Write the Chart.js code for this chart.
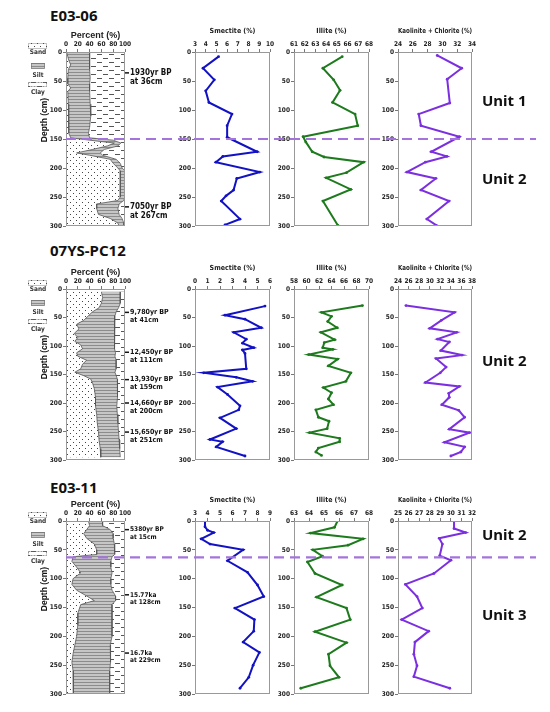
<!DOCTYPE html>
<html lang="en">
<head>
<meta charset="utf-8">
<title>Clay mineral profiles</title>
<script src="https://cdn.jsdelivr.net/npm/chart.js"></script>
<style>
  body { margin: 0; background: #fff; }
  #page { position: relative; width: 550px; height: 712px; overflow: hidden; }
  #page canvas { position: absolute; }
  .core-name { position: absolute; left: 50px; font: bold 15px 'Noto Sans', sans-serif; color: #111; line-height: 1; }
  .unit { position: absolute; left: 482px; font: bold 15px 'Noto Sans', sans-serif; color: #111; line-height: 1; }
</style>
</head>
<body>
<div id="page"></div>
<script>
// ---------- E03-06 ----------
const e0306GrainDepth = [0, 8, 15, 22, 30, 45, 55, 62, 68, 90, 110, 130, 140, 148, 152, 157, 162, 168, 174, 178, 185, 192, 200, 205, 250, 256, 262, 270, 280, 287, 295, 300];
const e0306Sand = [1, 3, 5, 8, 4, 3, 3, 8, 3, 4, 4, 5, 5, 8, 40, 82, 70, 45, 18, 40, 75, 80, 88, 92, 92, 88, 52, 52, 55, 75, 88, 90];
const e0306Silt = [39, 37, 35, 32, 36, 38, 37, 32, 37, 37, 38, 35, 33, 32, 40, 11, 18, 20, 40, 22, 10, 12, 7, 8, 8, 10, 38, 36, 35, 20, 10, 8];
const e0306AgeDepth = [36, 267];
const e0306AgeText = [['1930yr BP', 'at 36cm'], ['7050yr BP', 'at 267cm']];

const e0306SmDepth = [8, 28, 48, 67, 87, 107, 127, 147, 172, 180, 190, 207, 218, 238, 248, 257, 288, 298];
const e0306Sm = [5.2, 3.75, 4.8, 4.0, 4.3, 6.45, 6.0, 6.0, 8.8, 5.6, 4.95, 9.05, 6.9, 6.6, 5.9, 5.45, 7.2, 5.8];
const e0306IlDepth = [8, 28, 48, 66, 87, 107, 127, 146, 155, 172, 181, 190, 208, 217, 237, 257, 299];
const e0306Il = [65.5, 63.7, 64.7, 65.3, 64.6, 66.7, 66.95, 61.85, 62.1, 62.7, 63.8, 67.5, 65.9, 64.0, 66.3, 63.7, 65.1];
const e0306KcDepth = [6, 28, 47, 88, 107, 127, 146, 172, 180, 190, 207, 218, 238, 257, 288, 299];
const e0306Kc = [29.3, 32.6, 30.65, 31.0, 26.8, 27.1, 32.3, 28.5, 30.6, 27.7, 25.2, 29.1, 27.1, 30.9, 27.9, 29.2];
const e0306Boundary = [150];
const e0306Units = ['Unit 1', 'Unit 2'];
const e0306UnitDepth = [86, 220];

// ---------- 07YS-PC12 ----------
const pc12GrainDepth = [5, 15, 25, 33, 40, 47, 55, 62, 70, 78, 85, 92, 98, 105, 112, 118, 125, 132, 140, 146, 152, 158, 165, 175, 190, 205, 220, 235, 250, 265, 280, 295];
const pc12Sand = [60, 62, 60, 56, 45, 38, 30, 18, 22, 14, 20, 15, 25, 28, 18, 20, 35, 28, 25, 15, 30, 42, 45, 48, 50, 50, 52, 53, 55, 56, 58, 59];
const pc12Silt = [32, 30, 32, 33, 40, 45, 52, 65, 60, 68, 62, 67, 57, 55, 66, 63, 50, 57, 60, 68, 55, 45, 42, 40, 37, 36, 35, 35, 34, 34, 33, 33];
const pc12AgeDepth = [41, 111, 159, 200, 251];
const pc12AgeText = [['9,780yr BP', 'at 41cm'], ['12,450yr BP', 'at 111cm'], ['13,930yr BP', 'at 159cm'], ['14,660yr BP', 'at 200cm'], ['15,650yr BP', 'at 251cm']];

const pc12SmDepth = [30, 46, 53, 68, 76, 88, 95, 103, 107, 113, 140, 147, 155, 162, 172, 185, 205, 212, 226, 245, 264, 268, 277, 293];
const pc12Sm = [5.6, 2.4, 4.0, 5.3, 3.1, 4.1, 3.8, 4.7, 3.8, 4.0, 4.1, 0.7, 3.3, 4.6, 1.8, 2.6, 3.6, 3.5, 2.0, 3.3, 1.2, 2.2, 1.7, 4.0];
const pc12IlDepth = [29, 41, 48, 57, 68, 76, 89, 94, 103, 106, 115, 123, 135, 147, 162, 173, 182, 193, 203, 212, 225, 232, 245, 252, 262, 268, 279, 286, 292];
const pc12Il = [68.95, 62.4, 64.0, 63.4, 64.9, 62.3, 64.5, 62.85, 62.6, 64.2, 60.35, 65.0, 63.5, 67.1, 66.3, 62.7, 64.0, 63.5, 64.3, 61.5, 61.9, 63.6, 63.3, 60.5, 65.3, 65.3, 61.9, 61.5, 62.4];
const pc12KcDepth = [29, 41, 55, 69, 76, 88, 93, 108, 116, 122, 137, 147, 164, 171, 183, 190, 203, 213, 225, 246, 252, 269, 277, 286, 293];
const pc12Kc = [25.5, 34.7, 32.2, 30.0, 35.1, 31.5, 33.7, 32.1, 36.1, 31.2, 33.1, 32.0, 29.2, 35.6, 33.6, 33.7, 32.3, 35.5, 36.6, 33.7, 37.5, 32.8, 36.6, 35.9, 34.0];
const pc12Boundary = [];
const pc12Units = ['Unit 2'];
const pc12UnitDepth = [128];

// ---------- E03-11 ----------
const e0311GrainDepth = [0, 8, 15, 22, 30, 40, 50, 58, 62, 70, 80, 90, 100, 110, 120, 130, 138, 145, 160, 180, 200, 215, 230, 245, 260, 280, 300];
const e0311Sand = [38, 40, 35, 30, 35, 48, 52, 52, 12, 10, 18, 25, 12, 10, 18, 35, 48, 25, 20, 20, 18, 15, 12, 10, 12, 13, 12];
const e0311Silt = [24, 22, 40, 50, 45, 34, 31, 30, 66, 66, 58, 53, 64, 66, 60, 49, 36, 53, 58, 58, 60, 60, 64, 65, 62, 61, 62];
const e0311AgeDepth = [15, 128, 229];
const e0311AgeText = [['5380yr BP', 'at 15cm'], ['15.77ka', 'at 128cm'], ['16.7ka', 'at 229cm']];

const e0311SmDepth = [0, 10, 16, 20, 31, 40, 50, 69, 89, 111, 131, 151, 171, 191, 210, 228, 250, 271, 290];
const e0311Sm = [3.8, 3.8, 4.0, 4.5, 3.5, 4.2, 6.85, 5.6, 7.2, 8.0, 8.5, 6.2, 7.75, 7.7, 6.85, 8.15, 7.65, 7.3, 6.6];
const e0311IlDepth = [0, 11, 21, 31, 42, 50, 61, 71, 91, 111, 132, 151, 171, 192, 211, 231, 251, 271, 290];
const e0311Il = [65.9, 65.7, 64.1, 67.6, 66.6, 64.25, 64.9, 63.9, 64.4, 66.2, 64.5, 66.5, 66.75, 64.4, 66.5, 65.3, 65.4, 66.0, 63.45];
const e0311KcDepth = [0, 13, 20, 30, 40, 60, 68, 91, 110, 131, 151, 171, 191, 210, 231, 251, 270, 290];
const e0311Kc = [30.3, 30.3, 31.4, 28.9, 29.2, 28.95, 30.0, 28.4, 25.7, 26.8, 27.3, 25.35, 27.9, 26.6, 26.5, 26.8, 26.5, 29.9];
const e0311Boundary = [63];
const e0311Units = ['Unit 2', 'Unit 3'];
const e0311UnitDepth = [26, 164];

// ---------- layout ----------
const NARROW = "'Liberation Sans Narrow', 'DejaVu Sans Condensed', 'Liberation Sans', sans-serif";
const tickFont = { family: NARROW, size: 6.5, weight: 'bold' };
const titleFont = { family: NARROW, size: 7, weight: 'bold' };

const columns = [
    { title: 'Smectite (%)', left: 195, right: 270, color: '#1212c4' },
    { title: 'Illite (%)', left: 294, right: 369, color: '#1d7a1d' },
    { title: 'Kaolinite + Chlorite (%)', left: 398, right: 472, color: '#7b2fe0' }
];

const cores = [
    {
        name: 'E03-06', plotTop: 52, plotBottom: 226, nameTop: 8, ageFont: 8,
        grain: { depth: e0306GrainDepth, sand: e0306Sand, silt: e0306Silt },
        ages: { depth: e0306AgeDepth, text: e0306AgeText },
        minerals: [
            { depth: e0306SmDepth, value: e0306Sm, min: 3, max: 10, step: 1 },
            { depth: e0306IlDepth, value: e0306Il, min: 61, max: 68, step: 1 },
            { depth: e0306KcDepth, value: e0306Kc, min: 24, max: 34, step: 2 }
        ],
        boundary: e0306Boundary, units: e0306Units, unitDepth: e0306UnitDepth
    },
    {
        name: '07YS-PC12', plotTop: 289, plotBottom: 460, nameTop: 243, ageFont: 7,
        grain: { depth: pc12GrainDepth, sand: pc12Sand, silt: pc12Silt },
        ages: { depth: pc12AgeDepth, text: pc12AgeText },
        minerals: [
            { depth: pc12SmDepth, value: pc12Sm, min: 0, max: 6, step: 1 },
            { depth: pc12IlDepth, value: pc12Il, min: 58, max: 70, step: 2 },
            { depth: pc12KcDepth, value: pc12Kc, min: 24, max: 38, step: 2 }
        ],
        boundary: pc12Boundary, units: pc12Units, unitDepth: pc12UnitDepth
    },
    {
        name: 'E03-11', plotTop: 521, plotBottom: 694, nameTop: 480, ageFont: 6.5,
        grain: { depth: e0311GrainDepth, sand: e0311Sand, silt: e0311Silt },
        ages: { depth: e0311AgeDepth, text: e0311AgeText },
        minerals: [
            { depth: e0311SmDepth, value: e0311Sm, min: 3, max: 9, step: 1 },
            { depth: e0311IlDepth, value: e0311Il, min: 63, max: 68, step: 1 },
            { depth: e0311KcDepth, value: e0311Kc, min: 25, max: 32, step: 1 }
        ],
        boundary: e0311Boundary, units: e0311Units, unitDepth: e0311UnitDepth
    }
];

const page = document.getElementById('page');

function addCanvas(left, top, w, h) {
    const cv = document.createElement('canvas');
    cv.width = w; cv.height = h;
    cv.style.left = left + 'px'; cv.style.top = top + 'px';
    page.appendChild(cv);
    return cv;
}

function addText(cls, text, top) {
    const d = document.createElement('div');
    d.className = cls; d.textContent = text;
    d.style.top = top + 'px';
    page.appendChild(d);
}

// lithology fill patterns
function makePattern(kind) {
    const c = document.createElement('canvas');
    const p = c.getContext('2d');
    if (kind === 'sand') {
        c.width = 6; c.height = 6;
        p.fillStyle = '#fff'; p.fillRect(0, 0, 6, 6);
        p.fillStyle = '#444'; p.fillRect(1, 1, 1, 1); p.fillRect(4, 4, 1, 1);
    } else if (kind === 'silt') {
        c.width = 4; c.height = 3;
        p.fillStyle = '#c6c6c6'; p.fillRect(0, 0, 4, 3);
        p.fillStyle = '#8c8c8c'; p.fillRect(0, 0, 4, 1);
    } else {
        c.width = 12; c.height = 8;
        p.fillStyle = '#fff'; p.fillRect(0, 0, 12, 8);
        p.fillStyle = '#555'; p.fillRect(1, 2, 5, 1); p.fillRect(7, 6, 5, 1);
    }
    return document.createElement('canvas').getContext('2d').createPattern(c, 'repeat');
}
const patterns = { sand: makePattern('sand'), silt: makePattern('silt'), clay: makePattern('clay') };

const framePlugin = {
    id: 'frame',
    afterDraw(chart) {
        const { ctx, chartArea: a } = chart;
        ctx.save();
        ctx.strokeStyle = '#999';
        ctx.lineWidth = 1;
        ctx.strokeRect(Math.round(a.left) + 0.5, Math.round(a.top) + 0.5, Math.round(a.width) - 1, Math.round(a.height) - 1);
        ctx.restore();
    }
};

function baseOptions(padding) {
    return {
        responsive: false, animation: false, events: [],
        layout: { padding: padding, autoPadding: false },
        plugins: { legend: { display: false }, tooltip: { enabled: false } }
    };
}

function mineralChart(core, col, m) {
    const H_TOP = 26, W_LEFT = 24, PAD_R = 10, PAD_B = 6;
    const w = W_LEFT + (col.right - col.left) + PAD_R;
    const h = H_TOP + (core.plotBottom - core.plotTop) + PAD_B;
    const cv = addCanvas(col.left - W_LEFT, core.plotTop - H_TOP, w, h);
    const opts = baseOptions({ top: 0, left: 0, right: PAD_R, bottom: PAD_B });
    opts.scales = {
        x: {
            type: 'linear', position: 'top', min: m.min, max: m.max,
            afterFit: s => { s.height = H_TOP; },
            ticks: { stepSize: m.step, font: tickFont, color: '#222', padding: 1, maxRotation: 0, autoSkip: false },
            grid: { drawOnChartArea: false, tickLength: 3, color: '#777' },
            border: { display: false },
            title: { display: true, text: col.title, font: titleFont, color: '#222', padding: { top: 1, bottom: 0 } }
        },
        y: {
            type: 'linear', reverse: true, min: 0, max: 300,
            afterFit: s => { s.width = W_LEFT; },
            ticks: { stepSize: 50, font: tickFont, color: '#222', padding: 1 },
            grid: { drawOnChartArea: false, tickLength: 3, color: '#777' },
            border: { display: false }
        }
    };
    new Chart(cv, {
        type: 'scatter',
        data: {
            datasets: [{
                data: m.depth.map((d, i) => ({ x: m.value[i], y: d })),
                showLine: true, borderColor: col.color, backgroundColor: col.color,
                borderWidth: 2, pointRadius: 1.4, pointBorderWidth: 0
            }]
        },
        options: opts,
        plugins: [framePlugin]
    });
}

function grainChart(core) {
    const g = core.grain;
    const top = g.sand.map((s, i) => s + g.silt[i]);
    const zeros = g.sand.map(() => 0);
    const hundreds = g.sand.map(() => 100);
    const LEFT = 66, RIGHT = 125, PAD_T = 18, H_AX = 22, PAD_B = 6, W = 190;
    const cv = addCanvas(0, core.plotTop - PAD_T - H_AX, W, PAD_T + H_AX + (core.plotBottom - core.plotTop) + PAD_B);
    const opts = baseOptions({ top: PAD_T, left: 0, right: W - RIGHT, bottom: PAD_B });
    opts.scales = {
        x: {
            type: 'linear', position: 'top', min: 0, max: 100,
            afterFit: s => { s.height = H_AX; },
            ticks: { stepSize: 20, font: tickFont, color: '#222', padding: 1, maxRotation: 0, autoSkip: false },
            grid: { drawOnChartArea: false, tickLength: 3, color: '#777' },
            border: { display: false },
            title: { display: true, text: 'Percent (%)', font: { family: "'Liberation Sans', sans-serif", size: 9, weight: 'bold' }, color: '#222', padding: { top: 0, bottom: 0 } }
        },
        y: {
            type: 'linear', reverse: true, min: 0, max: 300,
            afterFit: s => { s.width = LEFT; },
            ticks: { stepSize: 50, font: tickFont, color: '#222', padding: 1 },
            grid: { drawOnChartArea: false, tickLength: 3, color: '#777' },
            border: { display: false }
        }
    };

    const bands = {
        id: 'bands',
        beforeDatasetsDraw(chart) {
            const { ctx, chartArea: a, scales: { x, y } } = chart;
            const band = (lo, hi, pat) => {
                ctx.beginPath();
                g.depth.forEach((d, i) => ctx.lineTo(x.getPixelForValue(lo[i]), y.getPixelForValue(d)));
                for (let i = g.depth.length - 1; i >= 0; i--) ctx.lineTo(x.getPixelForValue(hi[i]), y.getPixelForValue(g.depth[i]));
                ctx.closePath();
                ctx.fillStyle = pat;
                ctx.fill();
            };
            ctx.save();
            ctx.beginPath(); ctx.rect(a.left, a.top, a.width, a.height); ctx.clip();
            band(zeros, g.sand, patterns.sand);
            band(g.sand, top, patterns.silt);
            band(top, hundreds, patterns.clay);
            ctx.restore();
        },
        afterDraw(chart) {
            const { ctx, chartArea: a, scales: { y } } = chart;
            ctx.save();
            // age control points
            ctx.fillStyle = '#111';
            ctx.strokeStyle = '#111';
            ctx.lineWidth = 1.5;
            ctx.font = `bold ${core.ageFont}px ${NARROW}`;
            ctx.textBaseline = 'middle';
            core.ages.depth.forEach((d, i) => {
                const py = y.getPixelForValue(d);
                ctx.beginPath(); ctx.moveTo(a.right, py); ctx.lineTo(a.right + 4, py); ctx.stroke();
                ctx.fillText(core.ages.text[i][0], a.right + 5, py);
                ctx.fillText(core.ages.text[i][1], a.right + 5, py + core.ageFont + 1);
            });
            // lithology legend
            const t = a.top;
            ctx.lineWidth = 0.7;
            ctx.fillStyle = patterns.sand; ctx.fillRect(28, t - 9, 19, 6);
            ctx.setLineDash([1, 1]); ctx.strokeStyle = '#555'; ctx.strokeRect(28.5, t - 8.5, 18, 5);
            ctx.fillStyle = patterns.silt; ctx.fillRect(31, t + 11, 14, 6);
            ctx.setLineDash([]); ctx.strokeStyle = '#777'; ctx.strokeRect(31.5, t + 11.5, 13, 5);
            ctx.fillStyle = patterns.clay; ctx.fillRect(28, t + 30, 19, 5);
            ctx.setLineDash([2, 1]); ctx.strokeStyle = '#666'; ctx.strokeRect(28.5, t + 30.5, 18, 4);
            ctx.setLineDash([]);
            ctx.fillStyle = '#333';
            ctx.font = `bold 6.5px ${NARROW}`;
            ctx.textAlign = 'center';
            ctx.fillText('Sand', 38, t);
            ctx.fillText('Silt', 38, t + 23);
            ctx.fillText('Clay', 38, t + 40);
            // depth axis title
            ctx.translate(45, t + 68);
            ctx.rotate(-Math.PI / 2);
            ctx.fillStyle = '#111';
            ctx.font = "bold 8.5px 'Liberation Sans', sans-serif";
            ctx.fillText('Depth (cm)', 0, 0);
            ctx.restore();
        }
    };

    const edge = (vals) => ({
        data: g.depth.map((d, i) => ({ x: vals[i], y: d })),
        showLine: true, borderColor: '#555', borderWidth: 0.8, pointRadius: 0
    });
    new Chart(cv, {
        type: 'scatter',
        data: { datasets: [edge(g.sand), edge(top)] },
        options: opts,
        plugins: [bands, framePlugin]
    });
}

// dashed unit boundary across the whole row
function boundaryChart(core) {
    if (!core.boundary.length) return;
    const cv = addCanvas(66, core.plotTop, 470, core.plotBottom - core.plotTop);
    const opts = baseOptions(0);
    opts.scales = {
        x: { type: 'linear', min: 0, max: 1, display: false },
        y: { type: 'linear', reverse: true, min: 0, max: 300, display: false }
    };
    new Chart(cv, {
        type: 'scatter',
        data: {
            datasets: core.boundary.map(b => ({
                data: [{ x: 0, y: b }, { x: 1, y: b }],
                showLine: true, borderColor: '#a474dc', borderWidth: 2.2,
                borderDash: [10, 6], pointRadius: 0
            }))
        },
        options: opts
    });
}

cores.forEach(core => {
    addText('core-name', core.name, core.nameTop);
    grainChart(core);
    core.minerals.forEach((m, i) => mineralChart(core, columns[i], m));
    boundaryChart(core);
    const pxPerCm = (core.plotBottom - core.plotTop) / 300;
    core.units.forEach((u, i) => addText('unit', u, core.plotTop + core.unitDepth[i] * pxPerCm - 9));
});
</script>
</body>
</html>
